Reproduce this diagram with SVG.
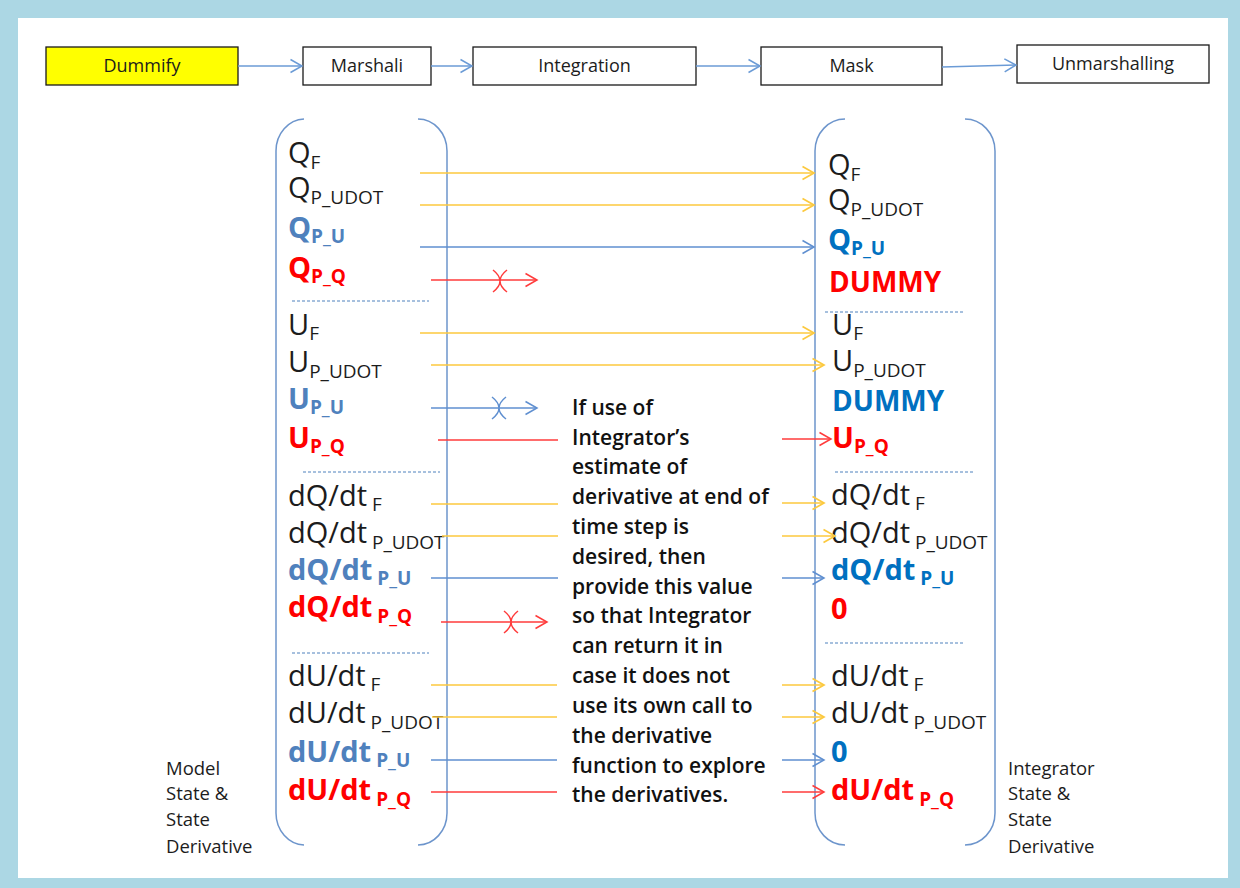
<svg xmlns="http://www.w3.org/2000/svg" width="1240" height="888" viewBox="0 0 1240 888">
  <defs>
    <style>
      text { font-family: "Open Sans", "Liberation Sans", sans-serif; fill: #1c1c1c; }
      .box { fill: #ffffff; stroke: #1a1a1a; stroke-width: 1.3; }
      .boxlbl { font-size: 18px; text-anchor: middle; }
      .lbl { font-size: 29px; }
      .sub { font-size: 19px; }
      .b { font-weight: bold; }
      .dummy { font-size: 28px; }
      .lblue { fill: #4f81bd; }
      .rblue { fill: #0070c0; }
      .red { fill: #ff0000; }
      .side { font-size: 18.5px; }
      .note { font-size: 21px; font-weight: 600; fill: #111111; }
      .bracket { fill: none; stroke: #6d95cc; stroke-width: 1.5; }
      .sep { stroke: #4f81bd; stroke-width: 1; stroke-dasharray: 3 2; }
      .flow { fill: none; stroke: #6b9bd6; stroke-width: 1.5; }
      .y { fill: none; stroke: #fcc93e; stroke-width: 1.7; }
      .bl { fill: none; stroke: #5f8fd0; stroke-width: 1.5; }
      .r { fill: none; stroke: #ff3b3b; stroke-width: 1.5; }
      .xmark { fill: none; stroke-width: 1.5; }
    </style>
    <marker id="ah-flow" markerUnits="userSpaceOnUse" markerWidth="14" markerHeight="16" refX="12" refY="7" orient="auto" overflow="visible">
      <path d="M0.5,0.5 L12,7 L0.5,13.5" fill="none" stroke="#6b9bd6" stroke-width="1.5"/>
    </marker>
    <marker id="ah-y" markerUnits="userSpaceOnUse" markerWidth="14" markerHeight="16" refX="12" refY="7" orient="auto" overflow="visible">
      <path d="M0.5,0.5 L12,7 L0.5,13.5" fill="none" stroke="#fcc93e" stroke-width="1.7"/>
    </marker>
    <marker id="ah-b" markerUnits="userSpaceOnUse" markerWidth="14" markerHeight="16" refX="12" refY="7" orient="auto" overflow="visible">
      <path d="M0.5,0.5 L12,7 L0.5,13.5" fill="none" stroke="#5f8fd0" stroke-width="1.5"/>
    </marker>
    <marker id="ah-r" markerUnits="userSpaceOnUse" markerWidth="14" markerHeight="16" refX="12" refY="7" orient="auto" overflow="visible">
      <path d="M0.5,0.5 L12,7 L0.5,13.5" fill="none" stroke="#ff3b3b" stroke-width="1.5"/>
    </marker>
  </defs>

  <!-- frame -->
  <rect x="0" y="0" width="1240" height="888" fill="#acd7e4"/>
  <rect x="18" y="18" width="1210" height="860" fill="#ffffff"/>

  <!-- pipeline stages -->
  <g id="stage-dummify">
    <rect class="box" x="46" y="47" width="192" height="38" style="fill:#ffff00"/>
    <text class="boxlbl" x="142" y="72">Dummify</text>
  </g>
  <g id="stage-marshali">
    <rect class="box" x="303" y="47" width="128" height="38"/>
    <text class="boxlbl" x="367" y="72">Marshali</text>
  </g>
  <g id="stage-integration">
    <rect class="box" x="473" y="47" width="223" height="38"/>
    <text class="boxlbl" x="584.5" y="72">Integration</text>
  </g>
  <g id="stage-mask">
    <rect class="box" x="761" y="47" width="181" height="38"/>
    <text class="boxlbl" x="851.5" y="72">Mask</text>
  </g>
  <g id="stage-unmarshalling">
    <rect class="box" x="1017" y="45" width="192" height="38"/>
    <text class="boxlbl" x="1113" y="70">Unmarshalling</text>
  </g>

  <!-- model state vector -->
  <g id="model-state">
    <path class="bracket" d="M304,119 A29,32 0 0 0 276,151 L276,813 A29,32 0 0 0 304,845"/>
    <path class="bracket" d="M418,119 A29,32 0 0 1 447,151 L447,813 A29,32 0 0 1 418,845"/>
    <text class="lbl" x="288" y="163">Q<tspan class="sub" dy="6">F</tspan></text>
    <text class="lbl" x="288" y="198">Q<tspan class="sub" dy="6">P_UDOT</tspan></text>
    <text class="lbl b lblue" x="288" y="238">Q<tspan class="sub" dy="5">P_U</tspan></text>
    <text class="lbl b red" x="288" y="278">Q<tspan class="sub" dy="5">P_Q</tspan></text>
    <line class="sep" x1="292" y1="301" x2="429" y2="301"/>
    <text class="lbl" x="288" y="335">U<tspan class="sub" dy="5">F</tspan></text>
    <text class="lbl" x="288" y="372">U<tspan class="sub" dy="6">P_UDOT</tspan></text>
    <text class="lbl b lblue" x="288" y="409">U<tspan class="sub" dy="5">P_U</tspan></text>
    <text class="lbl b red" x="288" y="448">U<tspan class="sub" dy="5">P_Q</tspan></text>
    <line class="sep" x1="303" y1="472" x2="440" y2="472"/>
    <text class="lbl" x="288" y="506">dQ/dt<tspan class="sub" dy="5"> F</tspan></text>
    <text class="lbl" x="288" y="543">dQ/dt<tspan class="sub" dy="6"> P_UDOT</tspan></text>
    <text class="lbl b lblue" x="288" y="580">dQ/dt<tspan class="sub" dy="5"> P_U</tspan></text>
    <text class="lbl b red" x="288" y="617">dQ/dt<tspan class="sub" dy="6"> P_Q</tspan></text>
    <line class="sep" x1="292" y1="653" x2="429" y2="653"/>
    <text class="lbl" x="288" y="686">dU/dt<tspan class="sub" dy="5"> F</tspan></text>
    <text class="lbl" x="288" y="723">dU/dt<tspan class="sub" dy="6"> P_UDOT</tspan></text>
    <text class="lbl b lblue" x="288" y="762">dU/dt<tspan class="sub" dy="5"> P_U</tspan></text>
    <text class="lbl b red" x="288" y="800">dU/dt<tspan class="sub" dy="6"> P_Q</tspan></text>
  </g>

  <g id="model-caption">
    <text class="side" x="166" y="775">Model</text>
    <text class="side" x="166" y="800">State &amp;</text>
    <text class="side" x="166" y="826">State</text>
    <text class="side" x="166" y="853">Derivative</text>
  </g>

  <!-- integrator state vector -->
  <g id="integrator-state">
    <path class="bracket" d="M845,119 A30,32 0 0 0 815,151 L815,813 A30,32 0 0 0 845,845"/>
    <path class="bracket" d="M965,119 A30,32 0 0 1 995,151 L995,813 A30,32 0 0 1 965,845"/>
    <text class="lbl" x="828" y="175">Q<tspan class="sub" dy="6">F</tspan></text>
    <text class="lbl" x="828" y="210">Q<tspan class="sub" dy="6">P_UDOT</tspan></text>
    <text class="lbl b rblue" x="828" y="250">Q<tspan class="sub" dy="5">P_U</tspan></text>
    <text class="lbl b red dummy" x="829" y="292">DUMMY</text>
    <line class="sep" x1="825" y1="312" x2="963" y2="312"/>
    <text class="lbl" x="832" y="335">U<tspan class="sub" dy="5">F</tspan></text>
    <text class="lbl" x="832" y="371">U<tspan class="sub" dy="6">P_UDOT</tspan></text>
    <text class="lbl b rblue dummy" x="832" y="411">DUMMY</text>
    <text class="lbl b red" x="832" y="448">U<tspan class="sub" dy="5">P_Q</tspan></text>
    <line class="sep" x1="835" y1="472" x2="973" y2="472"/>
    <text class="lbl" x="831" y="505">dQ/dt<tspan class="sub" dy="5"> F</tspan></text>
    <text class="lbl" x="831" y="543">dQ/dt<tspan class="sub" dy="6"> P_UDOT</tspan></text>
    <text class="lbl b rblue" x="831" y="580">dQ/dt<tspan class="sub" dy="5"> P_U</tspan></text>
    <text class="lbl b red" x="831" y="619">0</text>
    <line class="sep" x1="825" y1="643" x2="963" y2="643"/>
    <text class="lbl" x="831" y="686">dU/dt<tspan class="sub" dy="5"> F</tspan></text>
    <text class="lbl" x="831" y="723">dU/dt<tspan class="sub" dy="6"> P_UDOT</tspan></text>
    <text class="lbl b rblue" x="831" y="762">0</text>
    <text class="lbl b red" x="831" y="800">dU/dt<tspan class="sub" dy="6"> P_Q</tspan></text>
  </g>

  <g id="integrator-caption">
    <text class="side" x="1008" y="775">Integrator</text>
    <text class="side" x="1008" y="800">State &amp;</text>
    <text class="side" x="1008" y="826">State</text>
    <text class="side" x="1008" y="853">Derivative</text>
  </g>

  <g id="note">
    <text class="note" x="572" y="415">If use of</text>
    <text class="note" x="572" y="445">Integrator’s</text>
    <text class="note" x="572" y="474">estimate of</text>
    <text class="note" x="572" y="504">derivative at end of</text>
    <text class="note" x="572" y="534">time step is</text>
    <text class="note" x="572" y="564">desired, then</text>
    <text class="note" x="572" y="594">provide this value</text>
    <text class="note" x="572" y="623">so that Integrator</text>
    <text class="note" x="572" y="653">can return it in</text>
    <text class="note" x="572" y="683">case it does not</text>
    <text class="note" x="572" y="713">use its own call to</text>
    <text class="note" x="572" y="743">the derivative</text>
    <text class="note" x="572" y="773">function to explore</text>
    <text class="note" x="572" y="802">the derivatives.</text>
  </g>

  <!-- connectors -->
  <g id="connectors">
    <path class="flow" d="M238,66 L302,66" marker-end="url(#ah-flow)"/>
    <path class="flow" d="M431,66 L472,66" marker-end="url(#ah-flow)"/>
    <path class="flow" d="M696,66 L760,66" marker-end="url(#ah-flow)"/>
    <path class="flow" d="M942,67 L1016,65" marker-end="url(#ah-flow)"/>

    <path class="y" d="M420,173 H814" marker-end="url(#ah-y)"/>
    <path class="y" d="M420,205 H814" marker-end="url(#ah-y)"/>
    <path class="bl" d="M420,247 H814" marker-end="url(#ah-b)"/>
    <path class="r" d="M431,280 H537" marker-end="url(#ah-r)"/>
    <path class="xmark" stroke="#ff3b3b" d="M493,270 Q507,281 493,292 M507,270 Q493,281 507,292"/>

    <path class="y" d="M420,333 H814" marker-end="url(#ah-y)"/>
    <path class="y" d="M431,365 H824" marker-end="url(#ah-y)"/>
    <path class="bl" d="M431,408 H537" marker-end="url(#ah-b)"/>
    <path class="xmark" stroke="#5f8fd0" d="M492,397 Q506,408 492,419 M506,397 Q492,408 506,419"/>
    <path class="r" d="M438,440 H558"/>
    <path class="r" d="M782,439 H831" marker-end="url(#ah-r)"/>

    <path class="y" d="M431,504 H558"/>
    <path class="y" d="M782,503 H824" marker-end="url(#ah-y)"/>
    <path class="y" d="M442,536 H558"/>
    <path class="y" d="M782,536 H835" marker-end="url(#ah-y)"/>
    <path class="bl" d="M431,578 H558"/>
    <path class="bl" d="M782,578 H824" marker-end="url(#ah-b)"/>
    <path class="r" d="M441,622 H547" marker-end="url(#ah-r)"/>
    <path class="xmark" stroke="#ff3b3b" d="M504,611 Q518,622 504,633 M518,611 Q504,622 518,633"/>

    <path class="y" d="M431,685 H557"/>
    <path class="y" d="M782,685 H824" marker-end="url(#ah-y)"/>
    <path class="y" d="M432,717 H557"/>
    <path class="y" d="M782,717 H824" marker-end="url(#ah-y)"/>
    <path class="bl" d="M431,760 H557"/>
    <path class="bl" d="M782,760 H824" marker-end="url(#ah-b)"/>
    <path class="r" d="M431,792 H557"/>
    <path class="r" d="M782,792 H824" marker-end="url(#ah-r)"/>
  </g>
</svg>
